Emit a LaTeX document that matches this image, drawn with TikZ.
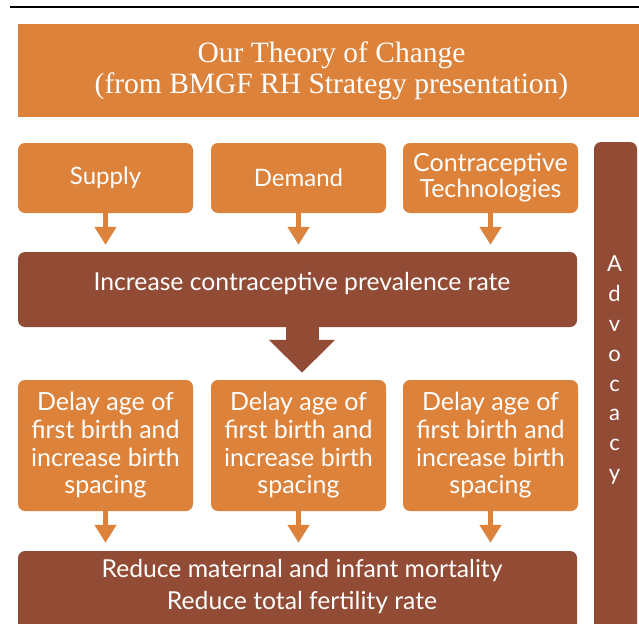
\documentclass[tikz,border=0pt]{standalone}
\usepackage{fontspec}
\setmainfont{Liberation Serif}
\newfontfamily\gs{Lato}
\usetikzlibrary{arrows.meta,calc}
\definecolor{orng}{HTML}{DC823A}
\definecolor{brwn}{HTML}{924B35}
\begin{document}
\begin{tikzpicture}[x=1pt,y=-1pt,
  obox/.style={fill=orng, rounded corners=7pt, inner sep=0pt, text=white, align=center,
    minimum width=175pt, font=\gs\fontsize{25}{27.7}\selectfont},
  bbox/.style={fill=brwn, rounded corners=7pt, inner sep=0pt},
  wtxt/.style={text=white, inner sep=0pt, anchor=base, font=\gs\fontsize{24.7}{32}\selectfont},
  sarrow/.style={draw=orng, line width=5.5pt, -{Triangle[width=21pt,length=18pt]}},
  barrow/.style={draw=brwn, line width=33pt, -{Triangle[width=64pt,length=33pt]}}]
\clip (0,0) rectangle (639,623);
\useasboundingbox (0,0) rectangle (639,623);
\coordinate (l0) at (10,7.5);
\coordinate (l1) at (639,7.5);
\draw[line width=2pt] (l0) -- (l1);
\node[fill=orng, minimum width=627pt, minimum height=93pt, inner sep=0pt, text=white,
  align=center, font=\fontsize{29.5}{31}\selectfont] (title) at (331.5,70.5)
  {Our Theory of Change\\(from BMGF RH Strategy presentation)};
\node[obox, minimum height=70pt, font=\gs\fontsize{24}{26}\selectfont] (s1) at (105.5,178) {Supply};
\node[obox, minimum height=70pt, font=\gs\fontsize{24}{26}\selectfont] (s2) at (298.5,178) {Demand};
\node[obox, minimum height=70pt, font=\gs\fontsize{25}{26}\selectfont] (s3) at (490.5,178) {Contraceptive\\Technologies};
\node[bbox, minimum width=559pt, minimum height=75pt] (inc) at (297.5,289.5) {};
\node[wtxt] at ($(inc.north)+(4.5,39)$) {Increase contraceptive prevalence rate};
\node[obox, minimum height=131pt] (d1) at (105.5,445.5) {Delay age of\\first birth and\\increase birth\\spacing};
\node[obox, minimum height=131pt] (d2) at (298.5,445.5) {Delay age of\\first birth and\\increase birth\\spacing};
\node[obox, minimum height=131pt] (d3) at (490.5,445.5) {Delay age of\\first birth and\\increase birth\\spacing};
\node[bbox, minimum width=559pt, minimum height=89pt] (red) at (297.5,595.5) {};
\node[wtxt] at ($(red.north)+(4.5,27)$) {Reduce maternal and infant mortality};
\node[wtxt] at ($(red.north)+(4.5,59)$) {Reduce total fertility rate};
\node[bbox, minimum width=43pt, minimum height=498pt] (adv) at (615.5,391) {};
\foreach \l [count=\i from 0] in {A,d,v,o,c,a,c,y}
  \node[wtxt, font=\gs\fontsize{22}{22}\selectfont] at ($(adv.north)+(-1,130+\i*29.8)$) {\l};
\foreach \n in {1,2,3} {
  \draw[sarrow] (s\n.south) -- ($(s\n.south |- inc.north)+(0,-7)$);
  \draw[sarrow] (d\n.south) -- ($(d\n.south |- red.north)+(0,-8)$);
}
\draw[barrow] ($(inc.south)+(4.5,0)$) -- ($(d2.north)+(3.5,-7)$);
\end{tikzpicture}
\end{document}
